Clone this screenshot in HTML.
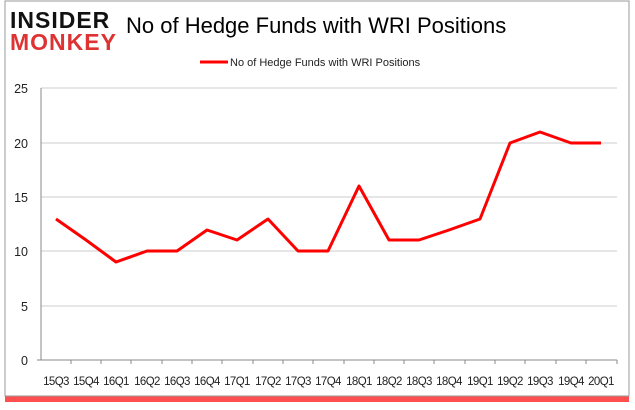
<!DOCTYPE html>
<html><head><style>
body{margin:0;background:#fff;width:635px;height:405px;overflow:hidden;font-family:"Liberation Sans",sans-serif}
</style></head><body>
<svg width="635" height="405" xmlns="http://www.w3.org/2000/svg">
<rect x="5" y="394" width="624" height="8" fill="#f22" opacity="0.8"/>
<rect x="5" y="1" width="624" height="395" fill="#fff" stroke="#999" stroke-width="1"/>
<text x="10" y="28" font-family="Liberation Sans" font-weight="900" font-size="23" fill="#111" letter-spacing="1">INSIDER</text>
<text x="10" y="50" font-family="Liberation Sans" font-weight="900" font-size="23" fill="#d33" letter-spacing="1">MONKEY</text>
<text x="126" y="33" font-family="Liberation Sans" font-size="22" fill="#000">No of Hedge Funds with WRI Positions</text>
<line x1="200" y1="62" x2="228" y2="62" stroke="#f00" stroke-width="3"/>
<text x="230" y="66" font-size="11" fill="#222">No of Hedge Funds with WRI Positions</text>
<g stroke="#ccc" stroke-width="1">
<line x1="41" y1="88" x2="617" y2="88"/><line x1="41" y1="143" x2="617" y2="143"/><line x1="41" y1="197" x2="617" y2="197"/><line x1="41" y1="251" x2="617" y2="251"/><line x1="41" y1="306" x2="617" y2="306"/>
</g>
<g stroke="#888" stroke-width="1"><line x1="41" y1="88" x2="41" y2="360"/><line x1="37" y1="360" x2="617" y2="360"/>
<path d="M71,360v4M101,360v4M131,360v4M162,360v4M192,360v4M222,360v4M253,360v4M283,360v4M313,360v4M344,360v4M374,360v4M404,360v4M434,360v4M465,360v4M495,360v4M525,360v4M556,360v4M586,360v4M617,360v4"/></g>
<g font-size="12.5" fill="#222" text-anchor="end">
<text x="28" y="93">25</text><text x="28" y="148">20</text><text x="28" y="202">15</text><text x="28" y="256">10</text><text x="28" y="311">5</text><text x="28" y="365">0</text>
</g>
<g font-size="11.5" fill="#222" text-anchor="middle" letter-spacing="-0.6">
<text x="56" y="385">15Q3</text><text x="86" y="385">15Q4</text><text x="116" y="385">16Q1</text><text x="147" y="385">16Q2</text><text x="177" y="385">16Q3</text><text x="207" y="385">16Q4</text><text x="237" y="385">17Q1</text><text x="268" y="385">17Q2</text><text x="298" y="385">17Q3</text><text x="328" y="385">17Q4</text><text x="359" y="385">18Q1</text><text x="389" y="385">18Q2</text><text x="419" y="385">18Q3</text><text x="449" y="385">18Q4</text><text x="480" y="385">19Q1</text><text x="510" y="385">19Q2</text><text x="540" y="385">19Q3</text><text x="571" y="385">19Q4</text><text x="601" y="385">20Q1</text>
</g>
<polyline fill="none" stroke="#f00" stroke-width="3" stroke-linejoin="round" points="56,219 86,240 116,262 147,251 177,251 207,230 237,240 268,219 298,251 328,251 359,186 389,240 419,240 449,230 480,219 510,143 540,132 571,143 601,143"/>
</svg>
</body></html>
